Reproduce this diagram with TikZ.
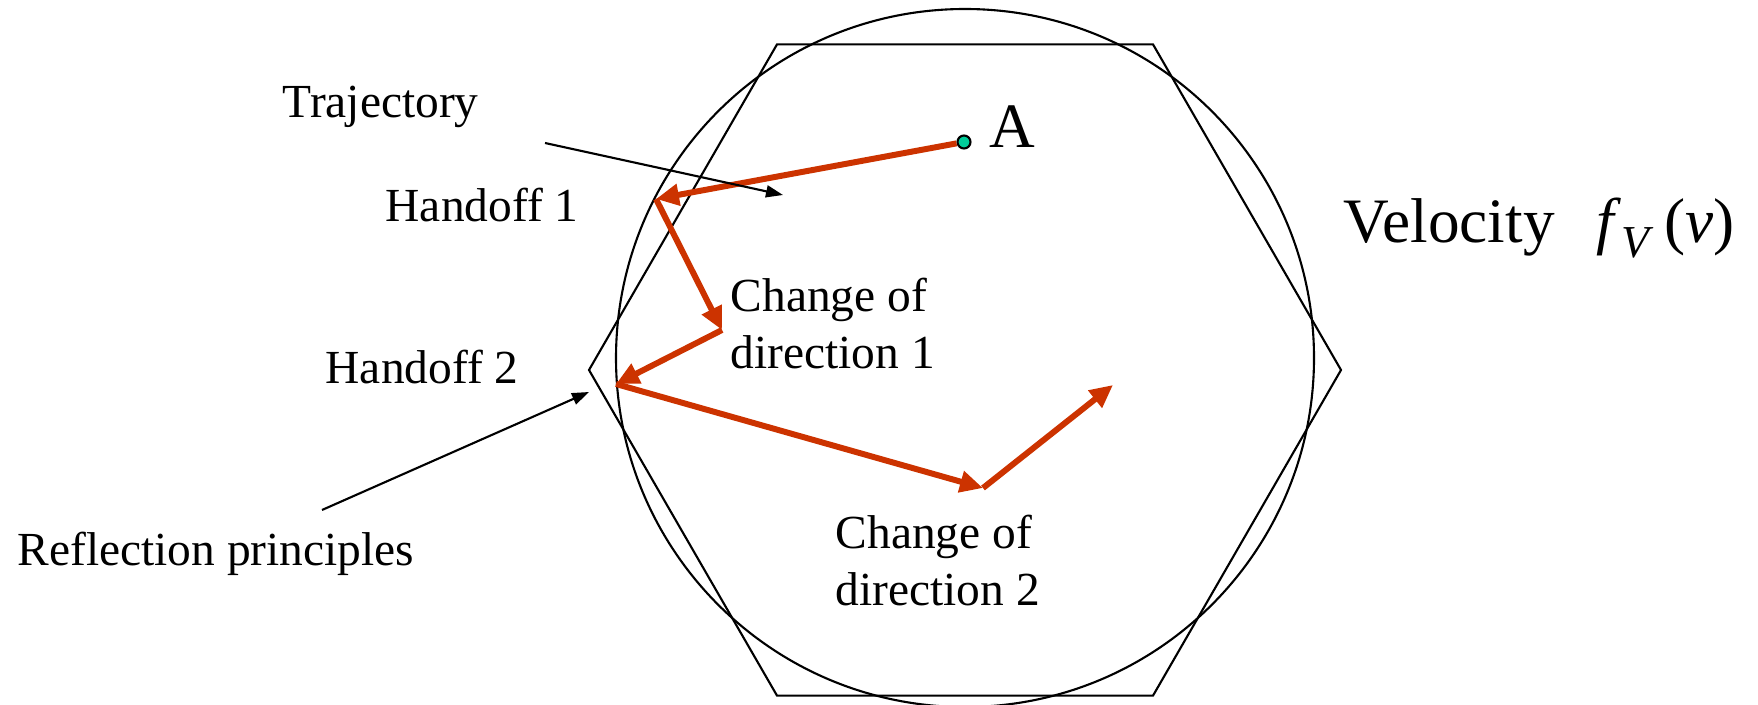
\documentclass[tikz,border=0pt]{standalone}
\usepackage{fontspec}
\setmainfont{Liberation Serif}
\usetikzlibrary{arrows.meta,positioning}
\definecolor{trajred}{RGB}{204,51,0}
\definecolor{dotgreen}{RGB}{0,204,153}

\begin{document}
\begin{tikzpicture}[lbl/.style={font=\fontsize{13.5}{16.2}\selectfont,inner sep=0pt,anchor=base west},biglbl/.style={lbl,font=\fontsize{18}{21}\selectfont},outline/.style={line width=0.6pt},leg/.style={draw=trajred,line width=1.7pt,-{Triangle[length=2.3mm,width=2.1mm]}},pointer/.style={line width=0.6pt,-{Triangle[length=1.7mm,width=1.2mm]}}]
\useasboundingbox (0,0) rectangle (17.58,7.04);
% velocity circle and hexagonal cell
\draw[outline] (9.65,3.46) circle (3.49);
\draw[outline] (13.41,3.34) -- ++(120:3.76) -- ++(180:3.76) -- ++(240:3.76) -- ++(300:3.76) -- ++(0:3.76) -- cycle;
% trajectory
\coordinate (h1) at (6.56,5.05);
\coordinate (c1) at (7.22,3.74);
\coordinate (h2) at (6.16,3.20);
\coordinate (c2) at (9.83,2.16);
\coordinate (e) at (11.13,3.19);
\node[circle,draw,fill=dotgreen,inner sep=0pt,minimum size=1.3mm,line width=0.6pt] (A) at (9.64,5.62) {};
\draw[leg] (A) -- (h1);
\draw[leg] (h1) -- (c1);
\draw[leg] (c1) -- (h2);
\draw[leg] (h2) -- (c2);
\draw[leg] (c2) -- (e);
% labels
\node[biglbl] (Alab) at (9.89,5.56) {A};
\node[lbl] (traj) at (2.82,5.86) {Trajectory};
\node[lbl] (hand1) at (3.85,4.82) {Handoff 1};
\node[lbl] (hand2) at (3.25,3.20) {Handoff 2};
\node[lbl] (refl) at (0.17,1.39) {Reflection principles};
\node[lbl,anchor=north west,align=left] (chg1) at (7.30,4.27) {Change of\\direction 1};
\node[lbl,anchor=north west,align=left] (chg2) at (8.35,1.90) {Change of\\direction 2};
\node[biglbl] (vel) at (13.43,4.61) {Velocity\hspace{0.42cm}\textit{f}\raisebox{-0.5ex}{\fontsize{13}{13}\selectfont\textit{V}}\hspace{3pt}(\textit{v})};
% pointers
\coordinate (trajtail) at (5.45,5.61);
\coordinate (trajtip) at (7.83,5.09);
\coordinate (refltail) at (3.22,1.94);
\coordinate (refltip) at (5.89,3.12);
\draw[pointer] (trajtail) -- (trajtip);
\draw[pointer] (refltail) -- (refltip);
\end{tikzpicture}
\end{document}
